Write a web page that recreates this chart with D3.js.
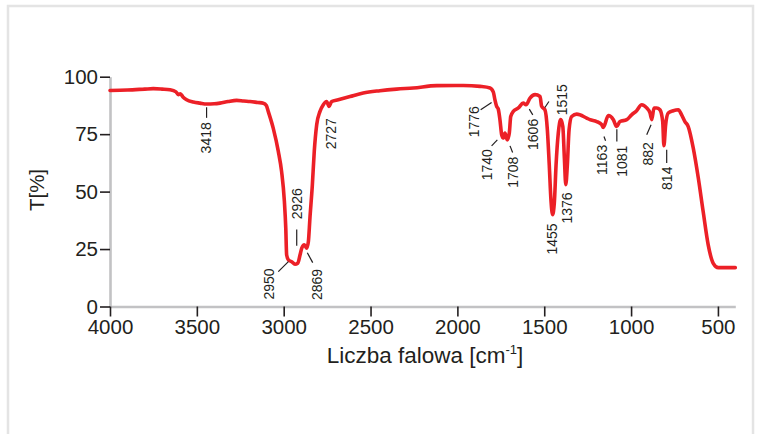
<!DOCTYPE html>
<html>
<head>
<meta charset="utf-8">
<script src="https://cdn.jsdelivr.net/npm/d3@7"></script>
<style>
  html, body { margin: 0; padding: 0; background: #fff; }
  svg { display: block; font-family: "Liberation Sans", Arial, Helvetica, sans-serif; }
</style>
</head>
<body>
<svg id="chart" width="761" height="434"></svg>
<script>
// IR spectrum: wavenumber [cm-1] vs transmittance T [%]
const wavenumber = [
  4000, 3900, 3800, 3751, 3700, 3655, 3620, 3607, 3595, 3580, 3559, 3520, 3482, 3443, 3400,
  3367, 3320, 3271, 3230, 3194, 3150, 3117, 3100, 3089, 3060, 3031, 3012, 2996, 2988, 2983,
  2973, 2954, 2935, 2919, 2906, 2896, 2881, 2868, 2858, 2849, 2835, 2824, 2810, 2791, 2772,
  2753, 2739, 2724, 2686, 2618, 2542, 2446, 2350, 2254, 2119, 1966, 1870, 1812, 1793, 1784,
  1774, 1765, 1755, 1745, 1736, 1726, 1713, 1701, 1693, 1678, 1649, 1621, 1605, 1582, 1553,
  1524, 1515, 1496, 1482, 1471, 1461, 1452, 1442, 1432, 1419, 1405, 1393, 1384, 1376, 1367,
  1357, 1342, 1313, 1256, 1237, 1198, 1169, 1160, 1131, 1102, 1083, 1064, 1025, 997, 968,
  939, 910, 891, 881, 868, 853, 834, 818, 811, 801, 786, 757, 728, 709, 690,
  671, 642, 613, 585, 556, 527, 498, 400
];
const transmittance = [
  94.0, 94.2, 94.6, 94.8, 94.6, 94.3, 93.4, 92.2, 92.6, 91.2, 90.0, 89.0, 88.5, 88.1, 88.2,
  88.5, 89.2, 89.7, 89.4, 89.2, 88.8, 88.5, 87.5, 84.9, 77.5, 67.5, 58.7, 45.7, 34.1, 22.4,
  20.3, 19.5, 18.4, 18.8, 22.4, 25.4, 26.8, 25.4, 28.2, 38.4, 52.9, 67.5, 79.1, 84.9, 87.8,
  89.2, 87.1, 89.2, 90.0, 91.4, 92.9, 93.9, 94.6, 95.1, 96.1, 96.2, 95.8, 95.1, 93.3, 90.0,
  87.1, 86.0, 81.3, 74.7, 73.3, 75.5, 72.5, 75.5, 82.7, 84.9, 86.4, 88.5, 87.8, 90.7, 92.2,
  91.4, 87.1, 85.6, 76.9, 61.5, 46.0, 40.0, 45.0, 61.5, 75.5, 81.3, 78.3, 64.5, 53.0, 61.5,
  76.9, 82.7, 83.7, 82.0, 81.3, 80.5, 79.1, 77.9, 83.1, 81.3, 78.3, 80.5, 81.3, 83.4, 85.2,
  87.8, 86.4, 84.2, 81.3, 86.4, 86.4, 85.6, 80.5, 70.0, 79.1, 84.2, 85.2, 85.6, 83.4, 80.5,
  78.3, 68.9, 55.9, 41.3, 26.8, 18.8, 16.9, 16.9
];

// axis ticks
const xTicks = [4000, 3500, 3000, 2500, 2000, 1500, 1000, 500];
const yTicks = [0, 25, 50, 75, 100];

// band labels: text, label centre [cm-1, T], leader line ends
const bandLabels = ["3418", "2950", "2926", "2869", "2727", "1776", "1740", "1708",
                    "1606", "1515", "1455", "1376", "1163", "1081", "882", "814"];
const bandLabelPos = [
  [3450, 73.4], [3087, 9.8], [2921, 44.7], [2808, 9.6], [2726, 75.2], [1907, 80.4],
  [1830, 61.7], [1678, 58.4], [1562, 74.9], [1400, 90.0], [1455, 29.4], [1368, 42.9],
  [1169, 63.8], [1054, 63.2], [900, 66.4], [796, 55.8]
];
const bandLeaders = [
  [[3444, 86.7], [3444, 82.1]],
  [[3031, 15.2], [2973, 19.5]],
  [[2925, 33.5], [2925, 26.4]],
  [[2864, 23.4], [2833, 19.1]],
  null,
  [[1866, 85.6], [1803, 88.8]],
  [[1803, 69.9], [1770, 72.5]],
  [[1697, 69.9], [1682, 67.0]],
  [[1586, 85.9], [1566, 83.4]],
  [[1496, 86.6], [1473, 89.2]],
  null,
  null,
  [[1156, 74.0], [1147, 72.1]],
  [[1082, 77.1], [1082, 71.8]],
  [[910, 74.7], [885, 79.1]],
  [[795, 68.2], [795, 62.4]]
];

const svg = d3.select("#chart");
const textColor = "#231f20";

// outer panel frame
svg.append("rect")
  .attr("x", 8).attr("y", 6)
  .attr("width", 745).attr("height", 440)
  .attr("fill", "#fff")
  .attr("stroke", "#e4e4e4")
  .attr("stroke-width", 2.5);

const x = d3.scaleLinear().domain([4000, 400]).range([110, 735.3]);
const y = d3.scaleLinear().domain([0, 100]).range([306.5, 76.7]);

// y axis
const gy = svg.append("g")
  .attr("transform", `translate(${x(4000)},0)`)
  .call(d3.axisLeft(y).tickValues(yTicks).tickFormat(d3.format("d"))
    .tickSize(10).tickSizeOuter(0).tickPadding(2));
// x axis
const gx = svg.append("g")
  .attr("transform", `translate(0,${y(0)})`)
  .call(d3.axisBottom(x).tickValues(xTicks).tickFormat(d3.format("d"))
    .tickSize(10).tickSizeOuter(0).tickPadding(3));

[gx, gy].forEach(g => {
  g.select(".domain").attr("stroke", "#c2c2c4").attr("stroke-width", 2.6);
  g.selectAll(".tick line").attr("stroke", textColor).attr("stroke-width", 1.6);
  g.selectAll(".tick text")
    .attr("fill", textColor)
    .style("font-size", "20.5px")
    .style("font-family", "\"Liberation Sans\", Arial, sans-serif");
});

// spectrum line
const pts = wavenumber.map((w, i) => [w, transmittance[i]]);
const line = d3.line()
  .x(d => x(d[0]))
  .y(d => y(d[1]))
  .curve(d3.curveMonotoneX);

svg.append("path")
  .datum(pts)
  .attr("d", line)
  .attr("fill", "none")
  .attr("stroke", "#ec2027")
  .attr("stroke-width", 3.6)
  .attr("stroke-linejoin", "round")
  .attr("stroke-linecap", "round");

// band leaders
const leaders = svg.append("g");
bandLeaders.forEach(l => {
  if (!l) return;
  leaders.append("line")
    .attr("x1", x(l[0][0])).attr("y1", y(l[0][1]))
    .attr("x2", x(l[1][0])).attr("y2", y(l[1][1]))
    .attr("stroke", textColor).attr("stroke-width", 1.2);
});

// band labels (rotated)
const labels = svg.append("g");
bandLabels.forEach((t, i) => {
  const cx = x(bandLabelPos[i][0]), cy = y(bandLabelPos[i][1]);
  labels.append("text")
    .attr("transform", `translate(${cx},${cy}) rotate(-90)`)
    .attr("text-anchor", "middle")
    .attr("dominant-baseline", "central")
    .attr("fill", textColor)
    .style("font-size", "14px")
    .text(t);
});

// axis titles
const xt = svg.append("text")
  .attr("x", 425).attr("y", 363)
  .attr("text-anchor", "middle")
  .attr("fill", textColor)
  .style("font-size", "22.5px");
xt.append("tspan").text("Liczba falowa [cm");
xt.append("tspan").attr("dy", -9).style("font-size", "13px").text("-1");
xt.append("tspan").attr("dy", 9).text("]");

svg.append("text")
  .attr("transform", "translate(36,190) rotate(-90)")
  .attr("text-anchor", "middle")
  .attr("dominant-baseline", "central")
  .attr("fill", textColor)
  .style("font-size", "20.5px")
  .text("T[%]");
</script>
</body>
</html>
